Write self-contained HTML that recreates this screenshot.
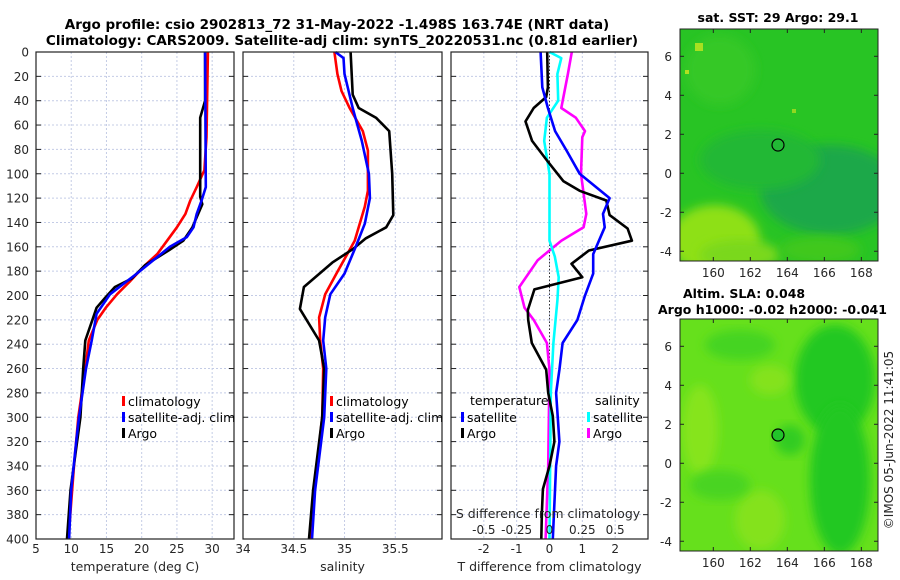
<!DOCTYPE html>
<html><head><meta charset="utf-8">
<style>
html,body{margin:0;padding:0;background:#fff;}
svg{display:block;font-family:"DejaVu Sans","Liberation Sans",sans-serif;}
</style></head>
<body>
<svg id="fig" width="900" height="580" viewBox="0 0 900 580" xmlns="http://www.w3.org/2000/svg">
<defs>
<filter id="blur4" x="-20%" y="-20%" width="140%" height="140%"><feGaussianBlur stdDeviation="5"/></filter>
<clipPath id="m1clip"><rect x="680" y="29" width="198" height="232"/></clipPath>
<clipPath id="m2clip"><rect x="680" y="319" width="198" height="232"/></clipPath>
</defs>
<text x="337" y="29" text-anchor="middle" font-size="13.5" font-weight="bold" fill="#000">Argo profile: csio 2902813_72 31-May-2022 -1.498S 163.74E (NRT data)</text>
<text x="342" y="45" text-anchor="middle" font-size="13.5" font-weight="bold" fill="#000">Climatology: CARS2009. Satellite-adj clim: synTS_20220531.nc (0.81d earlier)</text>

<g clip-path="url(#m1clip)">
<rect x="680" y="29" width="198" height="232" fill="#28c424"/>
<ellipse cx="830" cy="190" rx="70" ry="45" fill="#1aa848" filter="url(#blur4)"/>
<ellipse cx="760" cy="160" rx="60" ry="30" fill="#20b834" filter="url(#blur4)"/>
<ellipse cx="715" cy="240" rx="45" ry="35" fill="#8ee018" filter="url(#blur4)"/>
<ellipse cx="740" cy="255" rx="40" ry="15" fill="#7ad81a" filter="url(#blur4)"/>
<ellipse cx="820" cy="250" rx="40" ry="14" fill="#40c81e" filter="url(#blur4)"/>
<ellipse cx="720" cy="70" rx="35" ry="35" fill="#36c828" filter="url(#blur4)"/>
<rect x="695" y="43" width="8" height="8" fill="#a8e020"/>
<rect x="685" y="70" width="4" height="4" fill="#b0e020"/>
<rect x="792" y="109" width="4" height="4" fill="#90d820"/>
</g>
<rect x="680" y="29" width="198" height="232" fill="none" stroke="#222" stroke-width="1"/>
<circle cx="778" cy="145" r="6" fill="none" stroke="#000" stroke-width="1.2"/>
<text x="778" y="22" text-anchor="middle" font-size="12.5" font-weight="bold">sat. SST: 29 Argo: 29.1</text>

<g clip-path="url(#m2clip)">
<rect x="680" y="319" width="198" height="232" fill="#66e01c"/>
<ellipse cx="835" cy="380" rx="40" ry="55" fill="#22c822" filter="url(#blur4)"/>
<ellipse cx="840" cy="480" rx="30" ry="75" fill="#22c822" filter="url(#blur4)"/>
<ellipse cx="790" cy="440" rx="15" ry="15" fill="#30cc22" filter="url(#blur4)"/>
<ellipse cx="700" cy="430" rx="18" ry="45" fill="#86e41e" filter="url(#blur4)"/>
<ellipse cx="770" cy="380" rx="20" ry="15" fill="#84e21e" filter="url(#blur4)"/>
<ellipse cx="740" cy="345" rx="35" ry="15" fill="#44d420" filter="url(#blur4)"/>
<ellipse cx="760" cy="520" rx="25" ry="30" fill="#84e21e" filter="url(#blur4)"/>
<ellipse cx="720" cy="485" rx="30" ry="15" fill="#48d420" filter="url(#blur4)"/>
</g>
<rect x="680" y="319" width="198" height="232" fill="none" stroke="#222" stroke-width="1"/>
<circle cx="778" cy="435" r="6" fill="#22c42a" stroke="#000" stroke-width="1.2"/>
<text x="683" y="298" font-size="12.5" font-weight="bold">Altim. SLA: 0.048</text>
<text x="658" y="314" font-size="12.5" font-weight="bold">Argo h1000: -0.02 h2000: -0.041</text>
<text transform="translate(893,440) rotate(-90)" text-anchor="middle" font-size="12" fill="#262626">©IMOS 05-Jun-2022 11:41:05</text>
<g id="dyn"></g>
</svg>
<script>
// ---- depth axis
var depthTicks=[0,20,40,60,80,100,120,140,160,180,200,220,240,260,280,300,320,340,360,380,400];
// ---- temperature panel
var tempTicks=[5,10,15,20,25,30];
var tDepClim=[0,70,97,111,122,133,144,155,166,175,188,199,210,220,237,260,300,340,400];
var tClim=[29.4,29.2,28.9,27.8,26.9,26.2,25.0,23.6,22.2,20.5,18.4,16.5,14.9,13.7,12.5,12.0,11.0,10.4,9.6];
var tDepSat=[0,111,122,133,144,152,160,182,199,215,237,260,280,300,320,360,400];
var tSat=[29.0,29.1,28.5,27.8,27.35,26.4,24.0,19.3,15.5,13.6,12.9,12.1,11.6,11.1,10.7,10.0,9.7];
var tDepArgo=[0,40,54,119,125,144,155,163,175,186,193,202,210,237,260,300,360,400];
var tArgo=[29.0,29.0,28.3,28.3,28.6,27.2,25.9,23.8,20.5,18.6,16.2,14.8,13.6,12.0,11.7,11.3,9.9,9.4];
// ---- salinity panel
var salTicks=[34,34.5,35,35.5];
var sDepClim=[0,18,32,46,65,81,114,127,155,182,199,218,237,260,300,360,400];
var sClim=[34.9,34.93,34.97,35.05,35.18,35.23,35.23,35.2,35.1,34.92,34.81,34.75,34.76,34.79,34.78,34.7,34.67];
var sDepSat=[0,5,18,46,73,100,120,141,160,182,199,218,237,260,300,360,400];
var sSat=[34.91,34.99,35.0,35.08,35.17,35.24,35.25,35.2,35.11,35.0,34.86,34.81,34.79,34.82,34.8,34.71,34.68];
var sDepArgo=[0,35,46,54,65,100,134,144,153,162,173,193,211,237,260,300,360,400];
var sArgo=[35.06,35.08,35.14,35.31,35.44,35.47,35.48,35.41,35.21,35.08,34.88,34.6,34.56,34.75,34.8,34.78,34.69,34.65];
// ---- difference panel
var tDiffTicks=[-2,-1,0,1,2];
var sDiffTicks=[-0.5,-0.25,0,0.25,0.5];
var sDiffTickLabels=["-0.5","-0.25","0","0.25","0.5"];
var dtDepArgo=[0,29,37,46,57,73,89,106,114,122,134,145,155,163,174,185,195,212,220,239,261,280,299,320,340,359,378,400];
var dtArgo=[-0.07,-0.05,-0.1,-0.48,-0.73,-0.53,-0.08,0.42,0.92,1.73,1.83,2.38,2.51,1.2,0.67,1.0,-0.46,-0.66,-0.65,-0.54,-0.1,-0.04,0.1,0.15,0.0,-0.2,-0.23,-0.25];
var dtDepSat=[0,29,46,65,81,100,120,133,144,166,182,201,220,239,261,280,320,340,400];
var dtSat=[-0.27,-0.22,-0.05,0.17,0.52,0.92,1.83,1.63,1.68,1.33,1.33,1.07,0.85,0.4,0.3,0.2,0.3,0.2,0.1];
var dsDepSat=[0,5,18,40,54,73,100,155,168,185,204,239,280,400];
var dsSat=[0.0,0.09,0.06,0.066,-0.02,-0.04,0,0,0.04,0.07,0.06,0.03,0.01,0.0];
var dsDepArgo=[0,18,46,54,65,70,100,133,144,155,171,193,210,220,239,261,340,400];
var dsArgo=[0.17,0.14,0.09,0.2,0.27,0.25,0.24,0.28,0.26,0.09,-0.09,-0.23,-0.19,-0.12,-0.02,0.0,-0.01,-0.03];
// ---- maps
var latTicks=[6,4,2,0,-2,-4];
var lonTicks=[160,162,164,166,168];

var NS="http://www.w3.org/2000/svg";
var root=document.getElementById('dyn');
function el(tag,attrs,parent){var e=document.createElementNS(NS,tag);for(var k in attrs)e.setAttribute(k,attrs[k]);(parent||root).appendChild(e);return e;}
var TOP=52,BOT=539;
function yD(d){return TOP+(BOT-TOP)*d/400;}
function lin(d0,d1,r0,r1){return function(v){return r0+(v-d0)*(r1-r0)/(d1-d0);};}
var panels=[
 {name:'temperature',x0:36,x1:234,sc:lin(5,33.1,36,234),ticks:tempTicks,label:'temperature (deg C)'},
 {name:'salinity',x0:243,x1:442,sc:lin(34,35.96,243,442),ticks:salTicks,label:'salinity'},
 {name:'difference',x0:451,x1:648,sc:lin(-3,3,451,648),ticks:tDiffTicks,label:'T difference from climatology'}
];
panels.forEach(function(p,pi){
  var g=el('g',{});
  
  
  depthTicks.forEach(function(d){
    var l=el('line',{x1:p.x0,x2:p.x1,y1:yD(d),y2:yD(d),stroke:'#c4cce6','stroke-width':1,'stroke-dasharray':'2,2'},g);
    
    
    el('line',{x1:p.x0,x2:p.x0+5,y1:yD(d),y2:yD(d),stroke:'#222','stroke-width':1},g);
    el('line',{x1:p.x1,x2:p.x1-5,y1:yD(d),y2:yD(d),stroke:'#222','stroke-width':1},g);
    if(pi===0){var t=el('text',{x:29,y:yD(d)+4.5,'text-anchor':'end','font-size':12,fill:'#262626'},g);t.textContent=d;
      
      }
  });
  p.ticks.forEach(function(v){
    var x=p.sc(v);
    var l=el('line',{x1:x,x2:x,y1:TOP,y2:BOT,stroke:'#c4cce6','stroke-width':1,'stroke-dasharray':'2,2'},g);
    
    
    var t=el('text',{x:x,y:553,'text-anchor':'middle','font-size':12,fill:'#262626'},g);t.textContent=v;
    
    
  });
  var lab=el('text',{x:(p.x0+p.x1)/2,y:571,'text-anchor':'middle','font-size':12.5,fill:'#262626'},g);lab.textContent=p.label;
  
  
  p.g=g;
});
// zero line in diff panel
var zl=el('line',{x1:panels[2].sc(0),x2:panels[2].sc(0),y1:TOP,y2:BOT,stroke:'#333','stroke-width':1,'stroke-dasharray':'1.5,2'});



function series(p,deps,vals,color,name,scale){
  var s=scale||1;var pts=deps.map(function(d,i){return p.sc(vals[i]*s).toFixed(1)+','+yD(d).toFixed(1);}).join(' ');
  var pl=el('polyline',{points:pts,fill:'none',stroke:color,'stroke-width':2.6,'stroke-linejoin':'round'});
  
  
}
series(panels[0],tDepClim,tClim,'#ff0000','temp-climatology-line');
series(panels[0],tDepArgo,tArgo,'#000000','temp-argo-line');
series(panels[0],tDepSat,tSat,'#0000ff','temp-satellite-line');
series(panels[1],sDepClim,sClim,'#ff0000','sal-climatology-line');
series(panels[1],sDepArgo,sArgo,'#000000','sal-argo-line');
series(panels[1],sDepSat,sSat,'#0000ff','sal-satellite-line');
series(panels[2],dsDepArgo,dsArgo,'#ff00ff','sdiff-argo-line',4);
series(panels[2],dsDepSat,dsSat,'#00ffff','sdiff-satellite-line',4);
series(panels[2],dtDepArgo,dtArgo,'#000000','tdiff-argo-line');
series(panels[2],dtDepSat,dtSat,'#0000ff','tdiff-satellite-line');

// frames
panels.forEach(function(p){var r=el('rect',{x:p.x0,y:TOP,width:p.x1-p.x0,height:BOT-TOP,fill:'none',stroke:'#222','stroke-width':1.2});
  
  });

// S-diff inner axis labels
var st=el('text',{x:548,y:518,'text-anchor':'middle','font-size':12.5,fill:'#262626'});st.textContent='S difference from climatology';


sDiffTicks.forEach(function(v,i){var t=el('text',{x:panels[2].sc(v*4),y:534,'text-anchor':'middle','font-size':12,fill:'#262626'});t.textContent=sDiffTickLabels[i];
  
  });

// legends
function legend(x,y,color,label,name){
  var g=el('g',{});
  
  
  el('rect',{x:x,y:y-10,width:3,height:10,fill:color},g);
  var t=el('text',{x:x+6,y:y,'font-size':12.5,fill:'#000'},g);t.textContent=label;
}
legend(122,406,'#ff0000','climatology','legend-temp-climatology');
legend(122,422,'#0000ff','satellite-adj. clim','legend-temp-satellite');
legend(122,438,'#000000','Argo','legend-temp-argo');
legend(330,406,'#ff0000','climatology','legend-sal-climatology');
legend(330,422,'#0000ff','satellite-adj. clim','legend-sal-satellite');
legend(330,438,'#000000','Argo','legend-sal-argo');
var lt=el('text',{x:470,y:405,'font-size':12.5,fill:'#000'});lt.textContent='temperature';


var ls=el('text',{x:595,y:405,'font-size':12.5,fill:'#000'});ls.textContent='salinity';


legend(461,422,'#0000ff','satellite','legend-tdiff-satellite');
legend(461,438,'#000000','Argo','legend-tdiff-argo');
legend(587,422,'#00ffff','satellite','legend-sdiff-satellite');
legend(587,438,'#ff00ff','Argo','legend-sdiff-argo');

// map axes
var latY=lin(7.4,-4.5,29,261), lonX=lin(158.2,168.9,680,878);
[29,319].forEach(function(top,mi){
  var off=top-29;
  latTicks.forEach(function(v){
    var y=latY(v)+off;
    var t=el('text',{x:672,y:y+4.5,'text-anchor':'end','font-size':12,fill:'#262626'});t.textContent=v;
    
    
    el('line',{x1:680,x2:684,y1:y,y2:y,stroke:'#222'});
    el('line',{x1:878,x2:874,y1:y,y2:y,stroke:'#222'});
  });
  lonTicks.forEach(function(v){
    var x=lonX(v);
    var t=el('text',{x:x,y:top+232+16,'text-anchor':'middle','font-size':12,fill:'#262626'});t.textContent=v;
    
    
    el('line',{x1:x,x2:x,y1:top+232,y2:top+228,stroke:'#222'});
    el('line',{x1:x,x2:x,y1:top,y2:top+4,stroke:'#222'});
  });
});
</script>
</body></html>
